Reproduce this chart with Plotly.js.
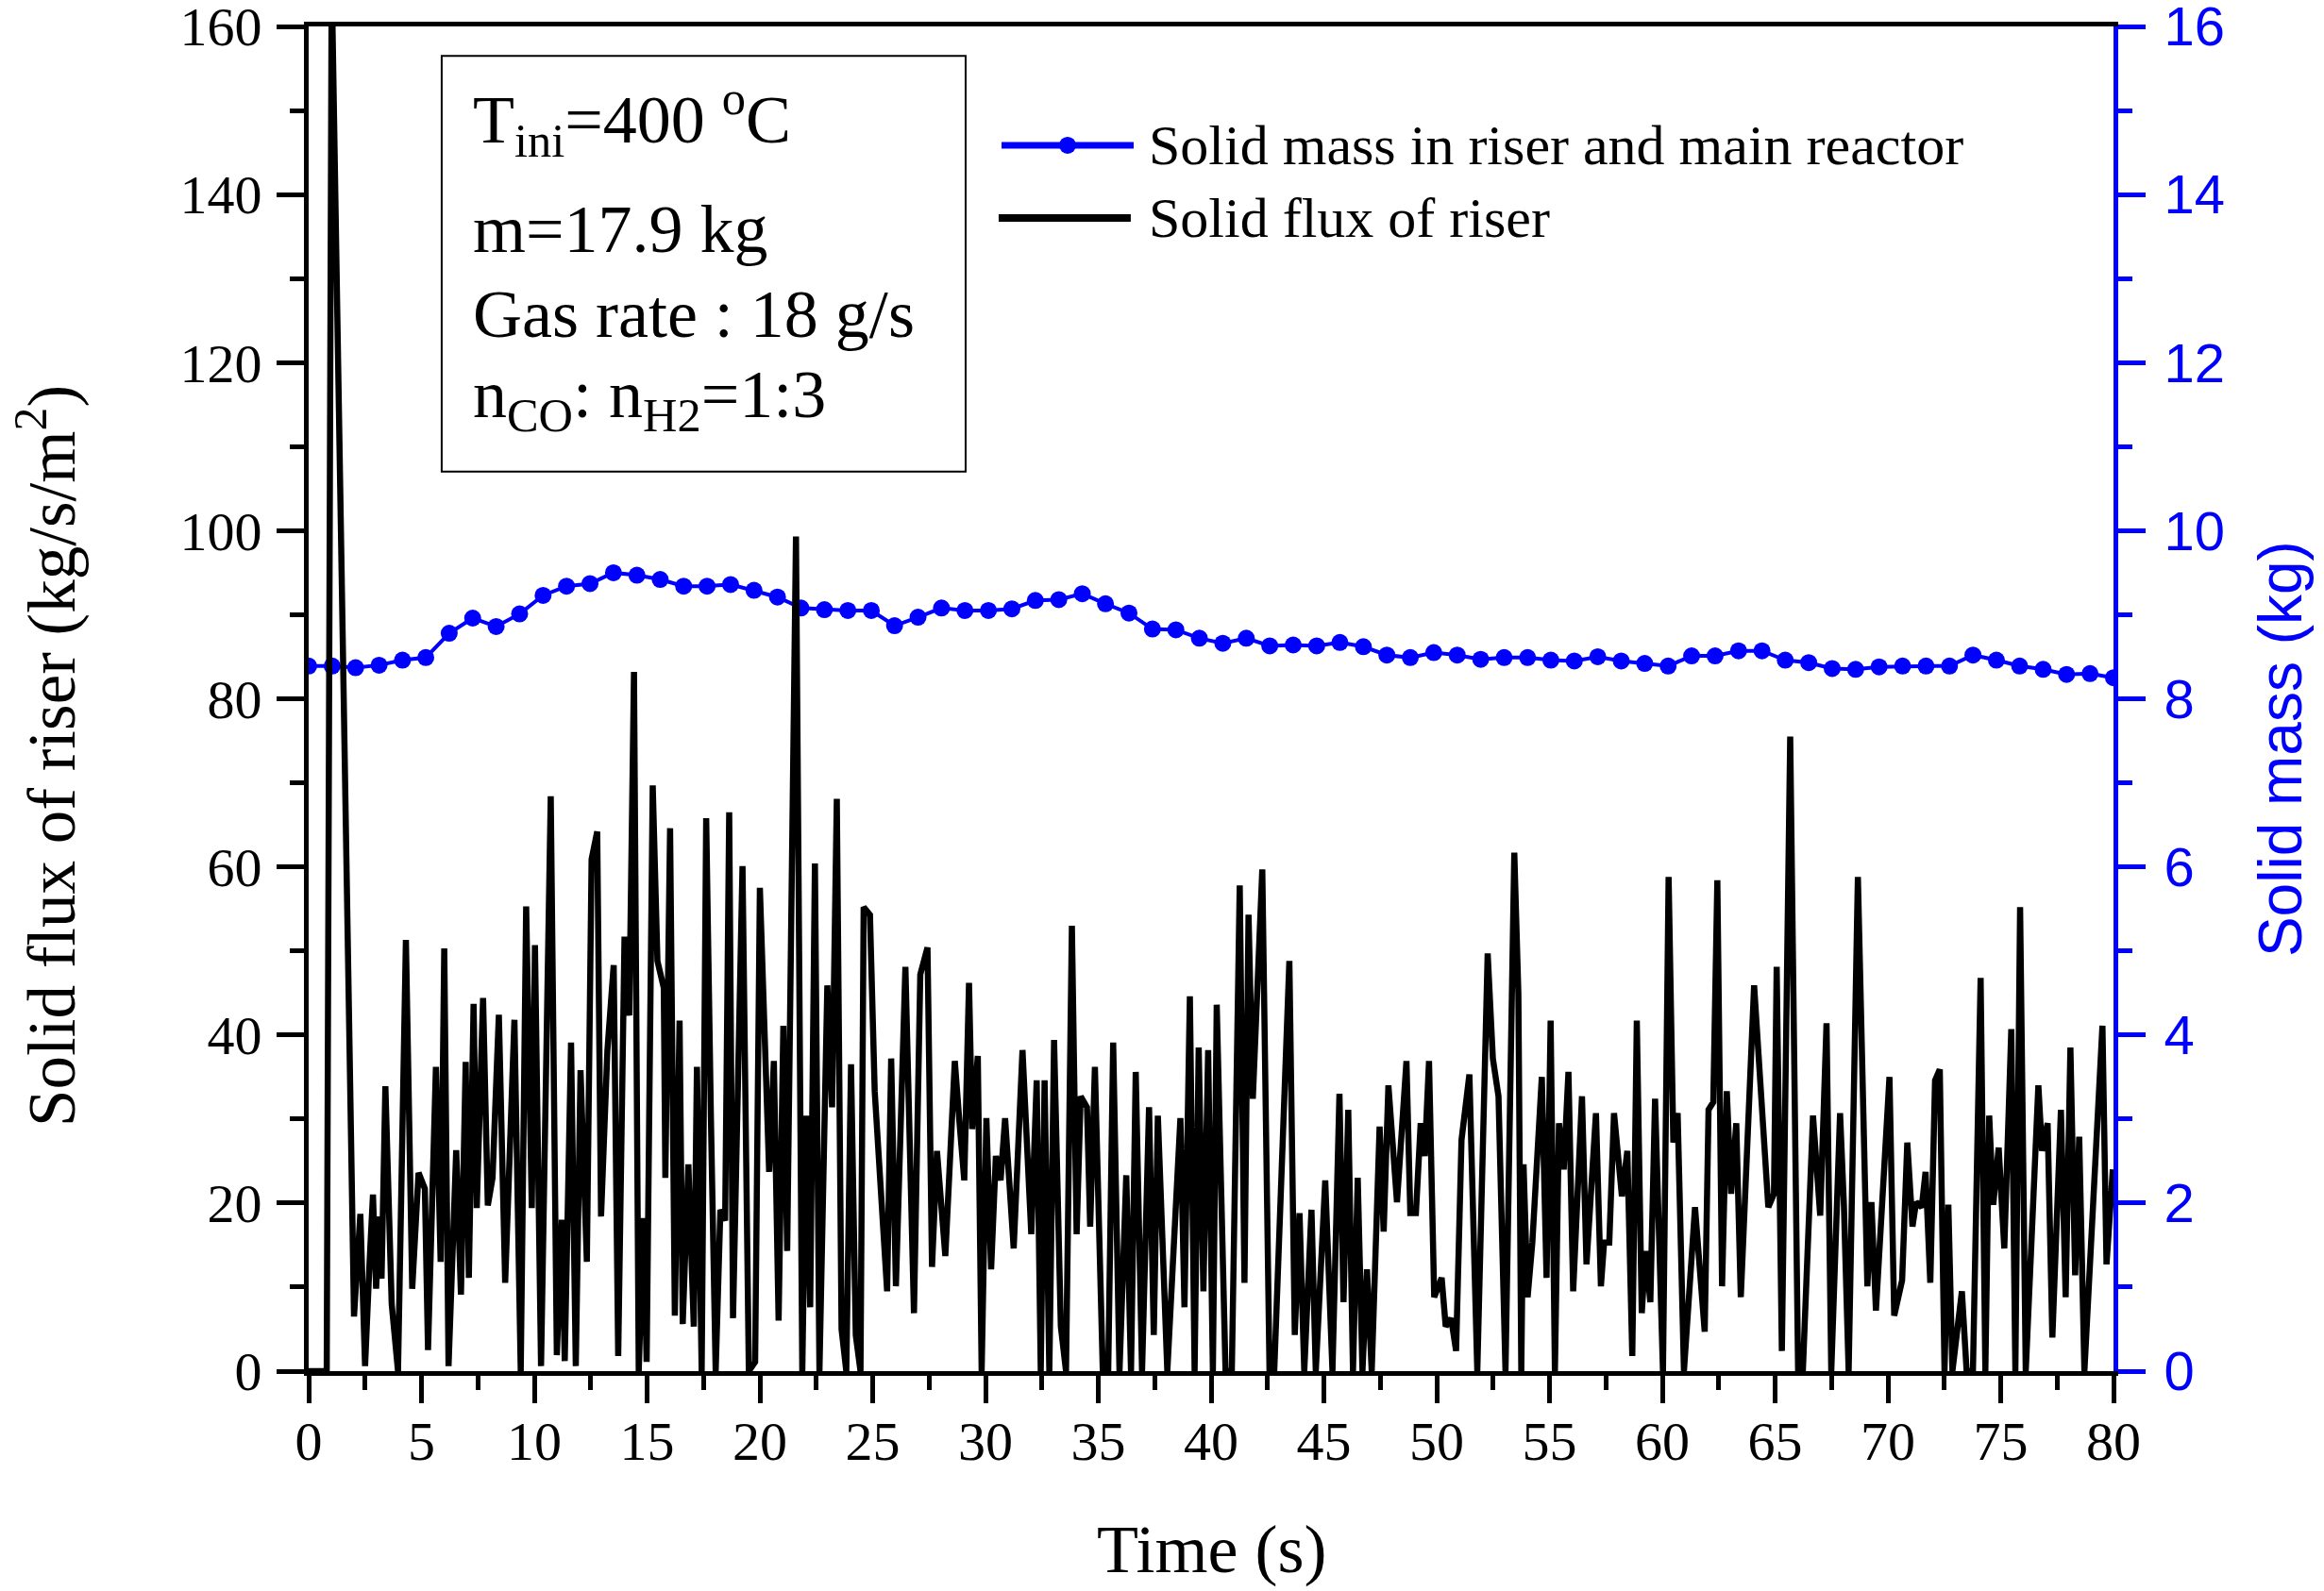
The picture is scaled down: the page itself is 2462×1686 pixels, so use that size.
<!DOCTYPE html>
<html>
<head>
<meta charset="utf-8">
<script src="https://cdn.plot.ly/plotly-3.0.1.min.js"></script>
<style>
  html, body { margin: 0; padding: 0; background: #fff; }
  #chart { width: 2462px; height: 1686px; }
</style>
</head>
<body>
<div id="chart"></div>
<script>
// solid flux of riser, kg/s/m2 (vertices)
const fluxTime = [
  0, 0.8, 1.02, 2.01, 2.29, 2.5, 2.7, 2.85, 2.99, 3.13, 3.23, 3.4, 3.68, 3.96, 4.31, 4.59, 4.87, 5.15, 5.29, 5.64,
  5.85, 6.01, 6.2, 6.54, 6.75, 6.96, 7.1, 7.31, 7.45, 7.73, 7.94, 8.15, 8.43, 8.71, 9.12, 9.4, 9.64, 9.89, 10.03, 10.3,
  10.73, 11.0, 11.22, 11.35, 11.63, 11.84, 12.05, 12.33, 12.54, 12.79, 12.96, 13.24, 13.52, 13.72, 14.0, 14.21, 14.42, 14.63, 14.84, 14.98,
  15.25, 15.46, 15.74, 15.81, 16.02, 16.23, 16.44, 16.58, 16.83, 17.07, 17.21, 17.42, 17.62, 17.83, 18.04, 18.25, 18.46, 18.64, 18.81, 19.23,
  19.51, 19.79, 20.0, 20.41, 20.62, 20.83, 21.04, 21.21, 21.6, 21.88, 22.05, 22.23, 22.44, 22.64, 22.99, 23.2, 23.41, 23.62, 23.83, 24.04,
  24.25, 24.46, 24.6, 24.88, 25.09, 25.64, 25.82, 26.03, 26.45, 26.83, 27.11, 27.43, 27.63, 27.85, 28.22, 28.64, 28.85, 29.06, 29.27, 29.41,
  29.66, 29.83, 30.04, 30.25, 30.46, 30.67, 30.87, 31.25, 31.64, 32.03, 32.27, 32.45, 32.62, 32.83, 33.04, 33.34, 33.57, 33.83, 34.04, 34.22,
  34.5, 34.64, 34.85, 35.2, 35.44, 35.66, 35.94, 36.24, 36.45, 36.66, 36.94, 37.25, 37.46, 37.64, 38.06, 38.64, 38.82, 39.06, 39.27, 39.45,
  39.66, 39.87, 40.08, 40.25, 40.64, 40.92, 41.27, 41.48, 41.66, 41.85, 42.27, 42.59, 42.8, 43.47, 43.71, 43.92, 44.13, 44.45, 44.64, 45.06,
  45.38, 45.69, 45.87, 46.08, 46.29, 46.5, 46.71, 46.91, 47.12, 47.47, 47.65, 47.86, 48.24, 48.66, 48.83, 49.08, 49.29, 49.47, 49.66, 49.89,
  50.22, 50.4, 50.64, 50.86, 51.1, 51.45, 51.8, 52.26, 52.49, 52.74, 53.05, 53.44, 53.62, 53.75, 53.85, 54.03, 54.24, 54.66, 54.87, 55.05,
  55.24, 55.42, 55.63, 55.84, 56.05, 56.44, 56.64, 57.06, 57.28, 57.42, 57.65, 57.86, 58.21, 58.45, 58.67, 58.87, 59.09, 59.26, 59.47, 59.68,
  60.03, 60.28, 60.49, 60.68, 60.96, 61.45, 61.88, 62.05, 62.26, 62.44, 62.65, 62.86, 63.05, 63.28, 63.48, 64.07, 64.7, 64.95, 65.07, 65.3,
  65.67, 66.02, 66.23, 66.68, 67.0, 67.28, 67.49, 67.88, 68.05, 68.26, 68.67, 69.09, 69.27, 69.47, 70.07, 70.28, 70.63, 70.86, 71.09, 71.25,
  71.5, 71.67, 71.88, 72.09, 72.3, 72.51, 72.68, 72.86, 73.28, 73.49, 73.77, 74.11, 74.32, 74.49, 74.67, 74.91, 75.16, 75.47, 75.65, 75.86,
  76.11, 76.67, 76.83, 77.08, 77.29, 77.67, 77.88, 78.09, 78.3, 78.48, 78.71, 79.51, 79.69, 79.97
]
const fluxValue = [
  0, 0, 166, 6.5, 18.7, 0.6, 13, 21, 9.8, 18.4, 11, 33.9, 8, 0, 51.3, 9.8, 23.6, 21.7, 2.5, 36.2,
  13, 50.3, 0.6, 26.3, 9.1, 36.8, 11.1, 43.7, 19.4, 44.4, 19.7, 23, 42.4, 10.5, 41.8, 0, 55.3, 19.4, 50.7, 0.6,
  68.4, 1.9, 18, 1.2, 39.1, 0.6, 35.8, 13, 60.9, 64.2, 18.4, 38.1, 48.3, 1.8, 51.7, 42.3, 83.2, 0, 18.2, 1.1,
  69.7, 48.8, 45.6, 23, 64.6, 6.6, 41.7, 5.6, 24.6, 5.3, 36.2, 0, 65.8, 30.1, 0, 19.2, 17.9, 66.5, 6.3, 60.1,
  0, 1.1, 57.5, 23.7, 36.9, 6, 41.1, 14.3, 99.3, 0, 30.4, 7.6, 60.4, 0, 45.9, 31.4, 68.1, 5, 0, 36.5,
  4.3, 0, 55.2, 54.3, 33.3, 9.5, 37.2, 10.1, 48.1, 6.9, 47.2, 50.4, 12.4, 26.2, 13.7, 36.9, 29.5, 22.7, 46.2, 28.8,
  37.5, 0, 30.1, 12.1, 25.6, 22.7, 30.1, 14.6, 38.2, 16.3, 34.6, 0, 34.6, 0, 39.4, 5.3, 0, 53, 16.3, 32.7,
  31.4, 17.2, 36.2, 0, 0, 39.1, 0, 23.3, 0, 35.6, 0, 31.4, 4.3, 30.4, 0, 30.1, 7.6, 44.6, 0, 38.5,
  9.5, 38.2, 0, 43.6, 0, 0, 57.8, 10.5, 54.3, 32.4, 59.7, 0, 0, 48.8, 4.3, 18.8, 0, 19.2, 0, 22.7,
  0, 33, 8.2, 31.1, 0, 23, 0, 12.1, 0, 29.1, 16.6, 34, 20.1, 36.9, 18.8, 18.8, 29.5, 25.6, 36.9, 8.8,
  11.1, 5.3, 6.3, 2.4, 27.5, 35.3, 0, 49.7, 37.2, 32.7, 0, 61.7, 45, 0, 24.6, 8.8, 15.3, 35, 11.1, 41.7,
  0, 29.5, 24, 35.6, 9.5, 32.7, 12.7, 30.7, 10.1, 15.3, 15.3, 30.7, 20.8, 26.2, 1.8, 41.7, 6.9, 14.3, 8.2, 32.4,
  0, 58.8, 27.2, 30.7, 0, 19.5, 4.7, 31.1, 32, 58.4, 10.1, 33.3, 21.1, 29.5, 8.8, 45.9, 19.5, 21.1, 48.1, 2.4,
  75.5, 0, 0, 30.4, 18.5, 41.4, 0, 30.7, 19.8, 0, 58.8, 10.1, 20.1, 7.2, 35, 6.6, 10.8, 27.2, 17.2, 20.1,
  19.5, 23.7, 10.5, 34.6, 35.9, 0, 19.8, 0, 9.5, 0, 0, 46.8, 0, 30.4, 19.8, 26.6, 14.6, 40.7, 0, 55.2,
  0, 34, 26.2, 29.5, 4, 31.1, 8.8, 38.5, 11.4, 27.9, 0, 41.1, 12.7, 24
]

// solid mass in riser and main reactor, kg
const massTime = [
  0.00, 1.04, 2.08, 3.12, 4.16, 5.19, 6.23, 7.27, 8.31, 9.35,
  10.39, 11.43, 12.47, 13.51, 14.55, 15.58, 16.62, 17.66, 18.70, 19.74,
  20.78, 21.82, 22.86, 23.90, 24.94, 25.97, 27.01, 28.05, 29.09, 30.13,
  31.17, 32.21, 33.25, 34.29, 35.32, 36.36, 37.40, 38.44, 39.48, 40.52,
  41.56, 42.60, 43.64, 44.68, 45.71, 46.75, 47.79, 48.83, 49.87, 50.91,
  51.95, 52.99, 54.03, 55.06, 56.10, 57.14, 58.18, 59.22, 60.26, 61.30,
  62.34, 63.38, 64.42, 65.45, 66.49, 67.53, 68.57, 69.61, 70.65, 71.69,
  72.73, 73.77, 74.81, 75.84, 76.88, 77.92, 78.96, 80.00
]
const massValue = [
  8.39, 8.39, 8.37, 8.40, 8.46, 8.49, 8.78, 8.96, 8.86, 9.01,
  9.23, 9.34, 9.37, 9.50, 9.47, 9.42, 9.34, 9.34, 9.36, 9.29,
  9.21, 9.08, 9.06, 9.05, 9.05, 8.87, 8.97, 9.08, 9.05, 9.05,
  9.07, 9.17, 9.18, 9.25, 9.13, 9.02, 8.83, 8.82, 8.72, 8.66,
  8.72, 8.63, 8.64, 8.63, 8.67, 8.62, 8.52, 8.49, 8.55, 8.52,
  8.47, 8.49, 8.49, 8.46, 8.45, 8.50, 8.45, 8.42, 8.39, 8.51,
  8.51, 8.57, 8.57, 8.46, 8.43, 8.36, 8.35, 8.38, 8.39, 8.39,
  8.39, 8.52, 8.46, 8.39, 8.35, 8.29, 8.30, 8.25
]

const massName = 'Solid mass in riser and main reactor'
const fluxName = 'Solid flux of riser'
const infoLines = [
  'T<sub>ini</sub>=400 <sup>o</sup>C',
  'm=17.9 kg',
  'Gas rate : 18 g/s',
  'n<sub>CO</sub>: n<sub>H2</sub>=1:3'
]

const BLUE = '#0000ff'
const SERIF = 'Liberation Serif, Times New Roman, serif'
const SANS = 'Liberation Sans, Arial, sans-serif'

const massTrace = {
  x: massTime,
  y: massValue,
  type: 'scatter',
  mode: 'lines+markers',
  name: massName,
  yaxis: 'y',
  line: { color: BLUE, width: 4 },
  marker: { color: BLUE, size: 18 },
  showlegend: false
}
const fluxTrace = {
  x: fluxTime,
  y: fluxValue,
  type: 'scatter',
  mode: 'lines',
  name: fluxName,
  yaxis: 'y2',
  line: { color: 'black', width: 6.5, simplify: false },
  showlegend: false
}

const tickStyle = (color, font, size) => ({
  showline: true,
  linecolor: color,
  linewidth: 5,
  ticks: 'outside',
  ticklen: 29,
  tickwidth: 5,
  tickcolor: color,
  showgrid: false,
  zeroline: false,
  ticklabeloverflow: 'allow',
  tickfont: { family: font, size: size, color: color }
})

// info box lines, top to bottom (paper y of each line)
const infoY = [0.931, 0.849, 0.786, 0.723]
const annotations = infoLines.map((t, i) => ({
  xref: 'paper', yref: 'paper', x: 0.090, y: infoY[i],
  xanchor: 'left', yanchor: 'middle', showarrow: false,
  text: t, font: { family: SERIF, size: 72, color: 'black' }
}))

annotations.push(
  { xref: 'paper', yref: 'paper', x: 0.4644, y: 0.9116, xanchor: 'left', yanchor: 'middle',
    showarrow: false, text: massName, font: { family: SERIF, size: 60, color: 'black' } },
  { xref: 'paper', yref: 'paper', x: 0.4644, y: 0.8575, xanchor: 'left', yanchor: 'middle',
    showarrow: false, text: fluxName, font: { family: SERIF, size: 60, color: 'black' } },
  { xref: 'paper', yref: 'paper', x: 0.5, y: -0.1326, xanchor: 'center', yanchor: 'middle',
    showarrow: false, text: 'Time (s)', font: { family: SERIF, size: 72, color: 'black' } },
  { xref: 'paper', yref: 'paper', x: -0.1449, y: 0.4575, xanchor: 'center', yanchor: 'middle',
    showarrow: false, textangle: -90, text: 'Solid flux of riser (kg/s/m<sup>2</sup>)',
    font: { family: SERIF, size: 71, color: 'black' } },
  { xref: 'paper', yref: 'paper', x: 1.0925, y: 0.463, xanchor: 'center', yanchor: 'middle',
    showarrow: false, textangle: -90, text: 'Solid mass (kg)',
    font: { family: SANS, size: 64, color: BLUE } }
)

const shapes = [
  // info box
  { type: 'rect', xref: 'paper', yref: 'paper', x0: 0.0737, x1: 0.364, y0: 0.669, y1: 0.978,
    line: { color: 'black', width: 2 }, fillcolor: 'rgba(0,0,0,0)' },
  // legend keys
  { type: 'line', xref: 'paper', yref: 'paper', x0: 0.3839, x1: 0.4571, y0: 0.9116, y1: 0.9116,
    line: { color: BLUE, width: 7 } },
  { type: 'circle', xref: 'paper', yref: 'paper', xsizemode: 'pixel', ysizemode: 'pixel',
    xanchor: 0.4205, yanchor: 0.9116, x0: -9, x1: 9, y0: -9, y1: 9,
    fillcolor: BLUE, line: { width: 0 } },
  { type: 'line', xref: 'paper', yref: 'paper', x0: 0.3823, x1: 0.4555, y0: 0.8575, y1: 0.8575,
    line: { color: 'black', width: 8 } }
]

const layout = {
  width: 2462,
  height: 1686,
  margin: { l: 327, r: 223, t: 28, b: 233 },
  paper_bgcolor: 'white',
  plot_bgcolor: 'white',
  font: { family: SERIF, color: 'black' },
  showlegend: false,
  xaxis: Object.assign(tickStyle('black', SERIF, 58), {
    range: [0, 80], tick0: 0, dtick: 5, mirror: true, anchor: 'y',
    ticklabelstandoff: -10,
    minor: { dtick: 2.5, ticks: 'outside', ticklen: 15, tickwidth: 5, tickcolor: 'black', showgrid: false }
  }),
  yaxis: Object.assign(tickStyle(BLUE, SANS, 58), {
    range: [0, 16], tick0: 0, dtick: 2, side: 'right', anchor: 'x',
    ticklabelstandoff: 8,
    minor: { dtick: 1, ticks: 'outside', ticklen: 15, tickwidth: 5, tickcolor: BLUE, showgrid: false }
  }),
  yaxis2: Object.assign(tickStyle('black', SERIF, 58), {
    range: [0, 160], tick0: 0, dtick: 20, side: 'left', overlaying: 'y', anchor: 'x',
    ticklabelstandoff: 4,
    minor: { dtick: 10, ticks: 'outside', ticklen: 15, tickwidth: 5, tickcolor: 'black', showgrid: false }
  }),
  shapes: shapes,
  annotations: annotations
}

Plotly.newPlot('chart', [massTrace, fluxTrace], layout, { staticPlot: true })
</script>
</body>
</html>
